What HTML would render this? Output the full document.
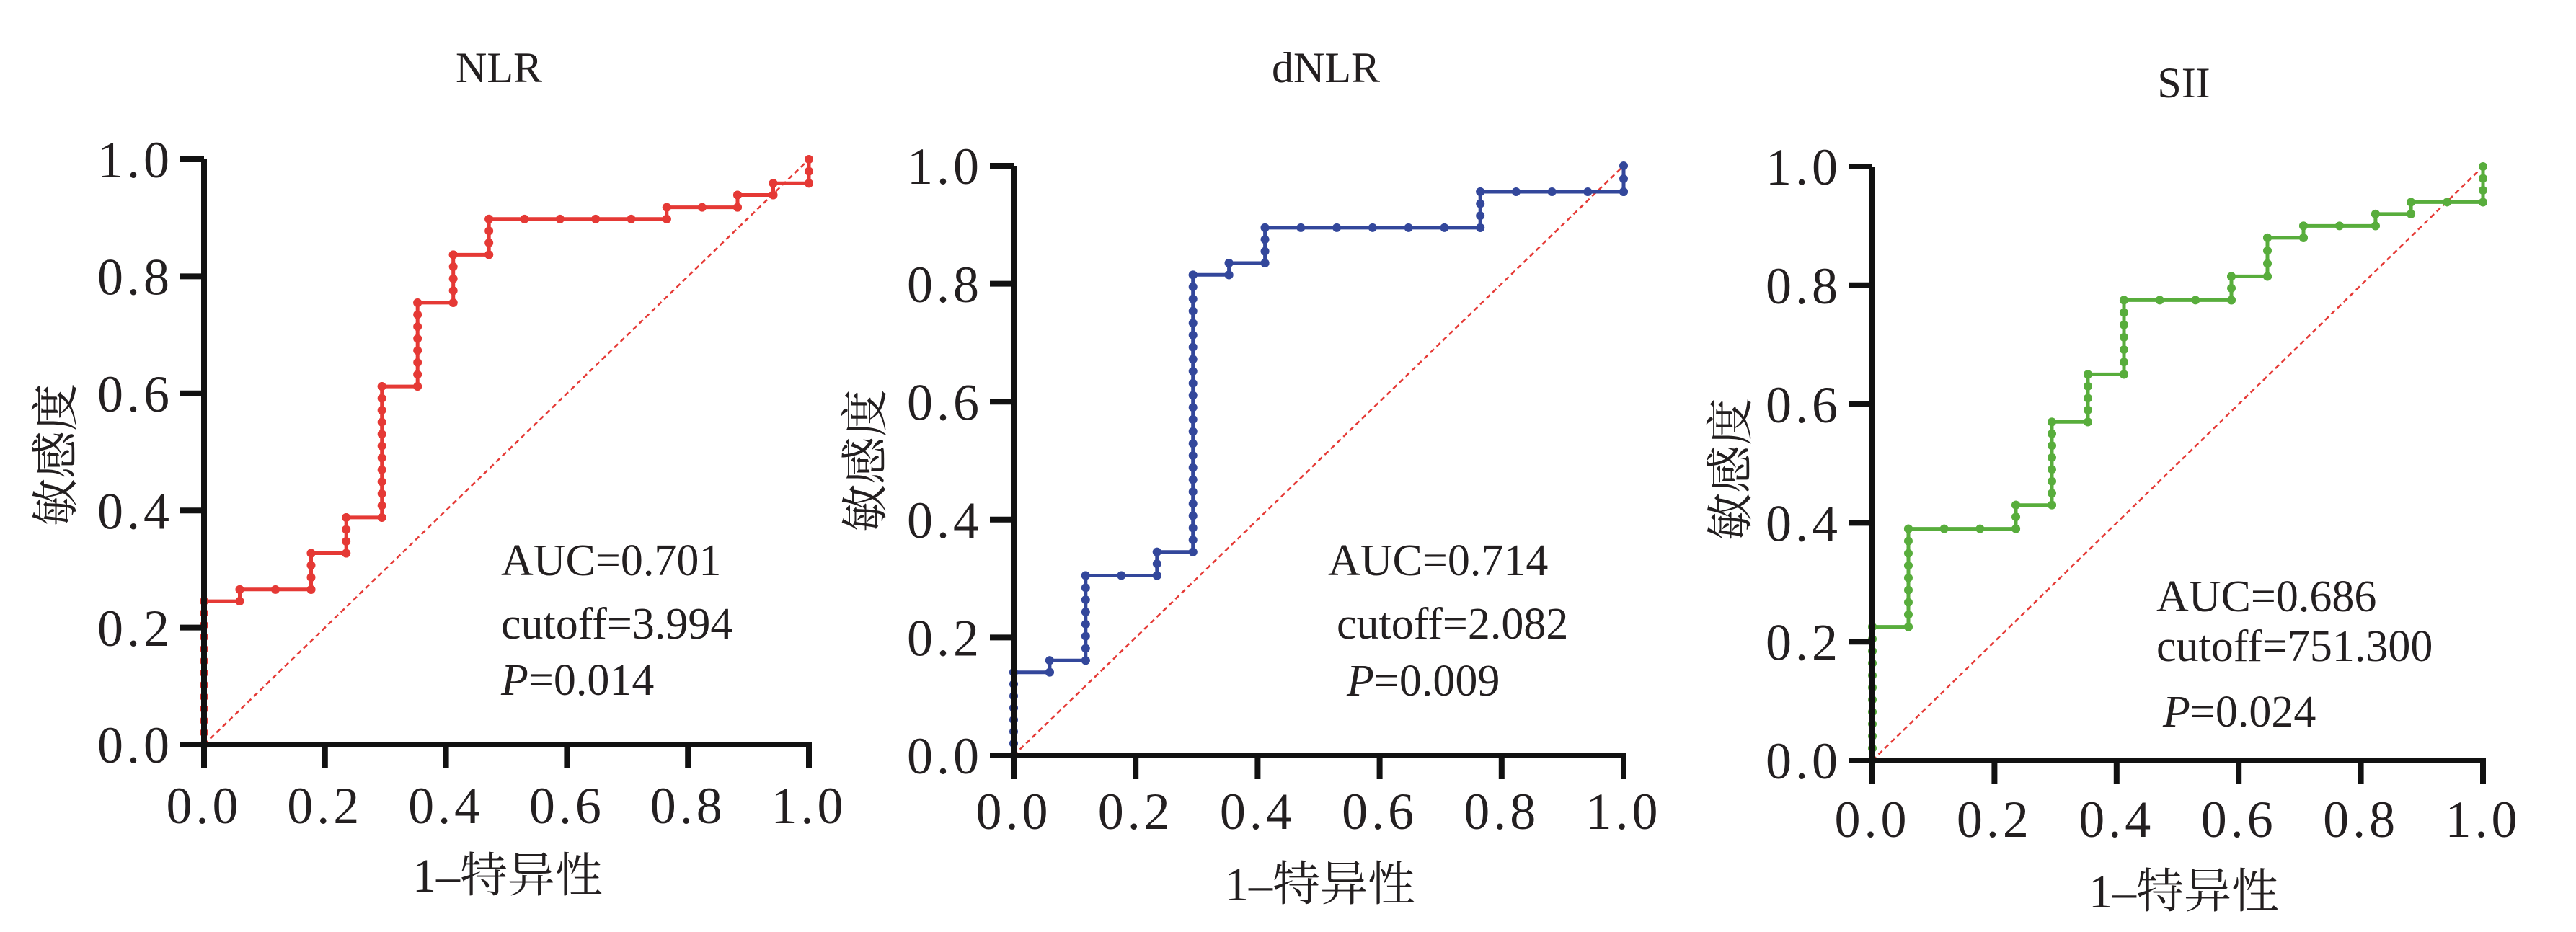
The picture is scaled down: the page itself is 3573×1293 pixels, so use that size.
<!DOCTYPE html>
<html><head><meta charset="utf-8"><style>
html,body{margin:0;padding:0;background:#fff;}
svg{display:block;}
text{font-family:"Liberation Serif","Noto Serif CJK SC",serif;fill:#231f20;}
.cjk{font-family:"Liberation Serif","Noto Serif CJK SC","Noto Sans CJK SC",serif;}
.tk{font-size:72px;letter-spacing:5px;}
</style></head><body>
<svg id="s" width="3573" height="1293" viewBox="0 0 3573 1293" xmlns="http://www.w3.org/2000/svg">
<rect width="3573" height="1293" fill="#fff"/>
<text x="692" y="114" font-size="60" text-anchor="middle">NLR</text>
<text x="704" y="1237" font-size="66" text-anchor="middle" class="cjk">1–特异性</text>
<text transform="translate(77,631) rotate(-90)" font-size="66" text-anchor="middle" dy="0.35em" class="cjk">敏感度</text>
<text x="695" y="798" font-size="62">AUC=0.701</text>
<text x="695" y="886" font-size="62">cutoff=3.994</text>
<text x="695" y="964" font-size="62"><tspan font-style="italic">P</tspan>=0.014</text>

<text x="1839" y="114" font-size="60" text-anchor="middle">dNLR</text>
<text x="1831" y="1249" font-size="66" text-anchor="middle" class="cjk">1–特异性</text>
<text transform="translate(1200,639) rotate(-90)" font-size="66" text-anchor="middle" dy="0.35em" class="cjk">敏感度</text>
<text x="1842" y="798" font-size="62">AUC=0.714</text>
<text x="1854" y="886" font-size="62">cutoff=2.082</text>
<text x="1868" y="965" font-size="62"><tspan font-style="italic">P</tspan>=0.009</text>

<text x="3029" y="135" font-size="60" text-anchor="middle">SII</text>
<text x="3029" y="1259" font-size="66" text-anchor="middle" class="cjk">1–特异性</text>
<text transform="translate(2400,651) rotate(-90)" font-size="66" text-anchor="middle" dy="0.35em" class="cjk">敏感度</text>
<text x="2991" y="848" font-size="62">AUC=0.686</text>
<text x="2991" y="917" font-size="62">cutoff=751.300</text>
<text x="3000" y="1008" font-size="62"><tspan font-style="italic">P</tspan>=0.024</text>
<g id="g"></g>
<g class="tk"></g>
</svg>
<script>
(function(){
var NS="http://www.w3.org/2000/svg",svg=document.getElementById("s"),g=document.getElementById("g");
function el(t,a,par){var e=document.createElementNS(NS,t);for(var k in a)e.setAttribute(k,a[k]);(par||g).appendChild(e);return e;}
var panels=[
 {x0:283,x1:1122,y0:1033,y1:221,c:"#e53935",ly:240,lx:1142,
  s:[[0,0],[0,0.245],[0.059,0.245],[0.059,0.265],[0.177,0.265],[0.177,0.327],[0.235,0.327],[0.235,0.388],[0.294,0.388],[0.294,0.612],[0.353,0.612],[0.353,0.755],[0.412,0.755],[0.412,0.837],[0.471,0.837],[0.471,0.898],[0.765,0.898],[0.765,0.918],[0.882,0.918],[0.882,0.939],[0.941,0.939],[0.941,0.959],[1,0.959],[1,1]]},
 {x0:1406,x1:2252,y0:1048,y1:230,c:"#33479b",ly:1363,lx:1150,
  s:[[0,0],[0,0.141],[0.059,0.141],[0.059,0.161],[0.118,0.161],[0.118,0.305],[0.235,0.305],[0.235,0.345],[0.294,0.345],[0.294,0.815],[0.353,0.815],[0.353,0.835],[0.412,0.835],[0.412,0.895],[0.765,0.895],[0.765,0.956],[1,0.956],[1,1]]},
 {x0:2597,x1:3444,y0:1055,y1:231,c:"#58ad3c",ly:2554,lx:1161,
  s:[[0,0],[0,0.225],[0.059,0.225],[0.059,0.39],[0.235,0.39],[0.235,0.43],[0.294,0.43],[0.294,0.57],[0.353,0.57],[0.353,0.65],[0.412,0.65],[0.412,0.775],[0.588,0.775],[0.588,0.815],[0.647,0.815],[0.647,0.88],[0.706,0.88],[0.706,0.90],[0.824,0.90],[0.824,0.92],[0.882,0.92],[0.882,0.94],[1,0.94],[1,1]]}
];
var tg=svg.querySelector(".tk");
panels.forEach(function(p){
 function X(v){return p.x0+(p.x1-p.x0)*v;} function Y(v){return p.y0-(p.y0-p.y1)*v;}
 el("line",{x1:X(0),y1:Y(0),x2:X(1),y2:Y(1),stroke:"#e53935","stroke-width":2.5,"stroke-dasharray":"7 5"});
 var d="";p.s.forEach(function(q,i){d+=(i?"L":"M")+X(q[0]).toFixed(1)+" "+Y(q[1]).toFixed(1);});
 el("path",{d:d,fill:"none",stroke:p.c,"stroke-width":5});
 for(var i=1;i<p.s.length;i++){var a=p.s[i-1],b=p.s[i];
  var step=(a[0]==b[0])?1/49:1/17;var len=Math.abs(b[0]-a[0])+Math.abs(b[1]-a[1]);
  var n=Math.max(1,Math.round(len/step));
  for(var k=0;k<=n;k++){var t=k/n;el("circle",{cx:X(a[0]+(b[0]-a[0])*t),cy:Y(a[1]+(b[1]-a[1])*t),r:6,fill:p.c});}}
 el("line",{x1:X(0),y1:p.y1,x2:X(0),y2:p.y0+4,stroke:"#111","stroke-width":8});
 el("line",{x1:X(0)-33,y1:p.y0,x2:X(1)+4,y2:p.y0,stroke:"#111","stroke-width":8});
 for(var j=0;j<=5;j++){var v=j/5,lab=(v).toFixed(1);
  el("line",{x1:X(0)-33,y1:Y(v),x2:X(0),y2:Y(v),stroke:"#111","stroke-width":8});
  el("line",{x1:X(v),y1:p.y0,x2:X(v),y2:p.y0+33,stroke:"#111","stroke-width":8});
  var t1=el("text",{x:p.ly,y:Y(v),dy:"0.35em","text-anchor":"end"},tg);t1.textContent=lab;
  var t2=el("text",{x:X(v),y:p.lx,"text-anchor":"middle"},tg);t2.textContent=lab;}
});
})();
</script>
</body></html>
